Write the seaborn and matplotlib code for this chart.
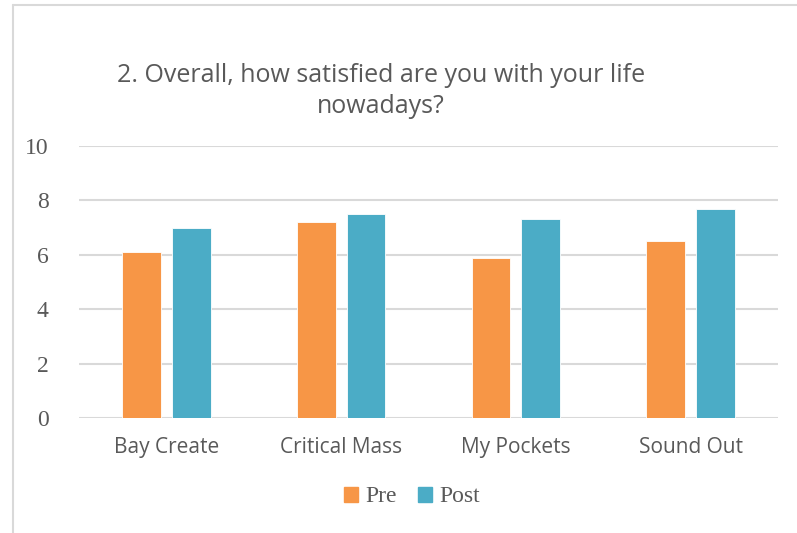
import matplotlib
matplotlib.use("Agg")
import pandas as pd
import seaborn as sns
import matplotlib.pyplot as plt
from matplotlib.lines import Line2D

programs = ["Bay Create", "Critical Mass", "My Pockets", "Sound Out"]
pre_scores = [6.1, 7.2, 5.9, 6.5]
post_scores = [7.0, 7.5, 7.3, 7.7]
series = ["Pre", "Post"]
colors = ["#F79646", "#4BACC6"]

title = "2. Overall, how satisfied are you with your life\nnowadays?"

data = pd.DataFrame({
    "Program": programs * 2,
    "Score": pre_scores + post_scores,
    "When": ["Pre"] * len(programs) + ["Post"] * len(programs),
})

sns.set_style("white")
text_col = "#595959"

fig = plt.figure(figsize=(7.97, 5.33), dpi=100)
ax = fig.add_axes([79 / 797, 1 - 418 / 533, (778 - 79) / 797, (418 - 146) / 533])

sns.barplot(data=data, x="Program", y="Score", hue="When", hue_order=series,
            palette=colors, width=0.57, gap=0.22, saturation=1, ax=ax,
            edgecolor="white", linewidth=0.6)

ax.set_ylim(0, 10)
ax.set_yticks([0, 2, 4, 6, 8, 10])
ax.set_xlim(-0.5, 3.5)
ax.yaxis.grid(True, color="#D9D9D9", linewidth=1.5)
ax.set_axisbelow(True)
for s in ax.spines.values():
    s.set_visible(False)
ax.tick_params(length=0)
ax.tick_params(axis="y", pad=22)
ax.tick_params(axis="x", pad=14)
ax.set_xlabel("")
ax.set_ylabel("")
for lab in ax.get_yticklabels():
    lab.set_fontfamily("Liberation Serif")
    lab.set_fontsize(17)
    lab.set_color(text_col)
for lab in ax.get_xticklabels():
    lab.set_fontfamily("Open Sans")
    lab.set_fontsize(15)
    lab.set_color(text_col)

ax.get_legend().remove()
handles = [plt.Rectangle((0, 0), 1, 1, color=c) for c in colors]
fig.legend(handles, series, loc="center", bbox_to_anchor=(412 / 797, 1 - 497 / 533),
           ncol=2, frameon=False, handlelength=0.6, handleheight=0.6,
           handletextpad=0.3, columnspacing=0.9,
           prop={"family": "Liberation Serif", "size": 17}, labelcolor=text_col)

fig.text(381 / 797, 1 - 91 / 533, title, ha="center", va="center",
         multialignment="center", fontsize=18, family="Open Sans",
         color=text_col, linespacing=1.35)

# chart frame (left and top edges visible)
fig.add_artist(Line2D([13 / 797, 13 / 797], [0, 1 - 5 / 533], transform=fig.transFigure,
                      color="#D9D9D9", linewidth=1.5))
fig.add_artist(Line2D([13 / 797, 1], [1 - 5 / 533, 1 - 5 / 533], transform=fig.transFigure,
                      color="#D9D9D9", linewidth=1.5))

fig.savefig("out.png", dpi=100)
